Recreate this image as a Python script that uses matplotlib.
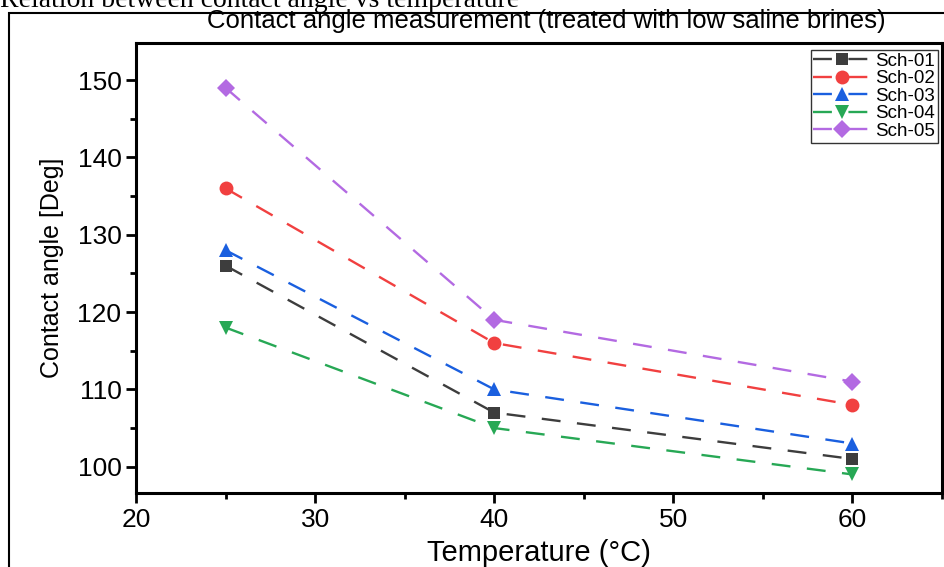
import matplotlib
matplotlib.use("Agg")
import matplotlib.pyplot as plt
from matplotlib.patches import Rectangle
from matplotlib.ticker import MultipleLocator

# ------ Data ------
temperature = [25, 40, 60]
sch_01 = [126, 107, 101]
sch_02 = [136, 116, 108]
sch_03 = [128, 110, 103]
sch_04 = [118, 105, 99]
sch_05 = [149, 119, 111]
labels = ["Sch-01", "Sch-02", "Sch-03", "Sch-04", "Sch-05"]

series = [sch_01, sch_02, sch_03, sch_04, sch_05]
colors = ["#3d3d3d", "#f14040", "#1a5fdf", "#27a855", "#b36ae2"]
markers = ["s", "o", "^", "v", "D"]
sizes = [9, 10, 10, 10, 9]

plt.rcParams["font.family"] = ["Liberation Sans", "DejaVu Sans"]

fig = plt.figure(figsize=(9.45, 5.67), dpi=100)
ax = fig.add_axes([136 / 945, 1 - 493 / 567, (942 - 136) / 945, (493 - 43) / 567])

for vals, lab, c, m, ms in zip(series, labels, colors, markers, sizes):
    ax.plot(temperature, vals, color=c, marker=m, markersize=ms, lw=1.7,
            dashes=(8, 7), label=lab, markeredgewidth=0)

ax.set_xlim(20, 65)
ax.set_ylim(96.6, 154.8)
ax.xaxis.set_major_locator(MultipleLocator(10))
ax.xaxis.set_minor_locator(MultipleLocator(5))
ax.yaxis.set_major_locator(MultipleLocator(10))
ax.yaxis.set_minor_locator(MultipleLocator(5))
ax.tick_params(which="both", direction="out", top=False, right=False,
               width=2, labelsize=19)
ax.tick_params(which="major", length=7)
ax.tick_params(which="minor", length=4.5)
for sp in ax.spines.values():
    sp.set_linewidth(2.2)

ax.set_xlabel("Temperature (°C)", fontsize=21, labelpad=5)
ax.set_ylabel("Contact angle [Deg]", fontsize=18, labelpad=10)

leg = ax.legend(loc="upper right", bbox_to_anchor=(0.995, 0.985), fontsize=13.5,
                frameon=True, fancybox=False, edgecolor="black",
                handlelength=3.0, borderpad=0.15, labelspacing=0.02,
                handletextpad=0.3, borderaxespad=0.0)
leg.get_frame().set_linewidth(1.0)

# titles
fig.text(546 / 945, 1 - 28 / 567, "Contact angle measurement (treated with low saline brines)",
         ha="center", va="baseline", fontsize=18.5)
fig.text(0.0, 1 - 7 / 567, "Relation between contact angle vs temperature",
         ha="left", va="baseline", fontsize=20, family=["Liberation Serif"])

# outer frame
fig.patches.append(Rectangle((9 / 945, -0.1), 1.2, 1 - 13 / 567 + 0.1,
                             transform=fig.transFigure, fill=False,
                             edgecolor="black", lw=1.5))

fig.savefig("out.png", dpi=100)
